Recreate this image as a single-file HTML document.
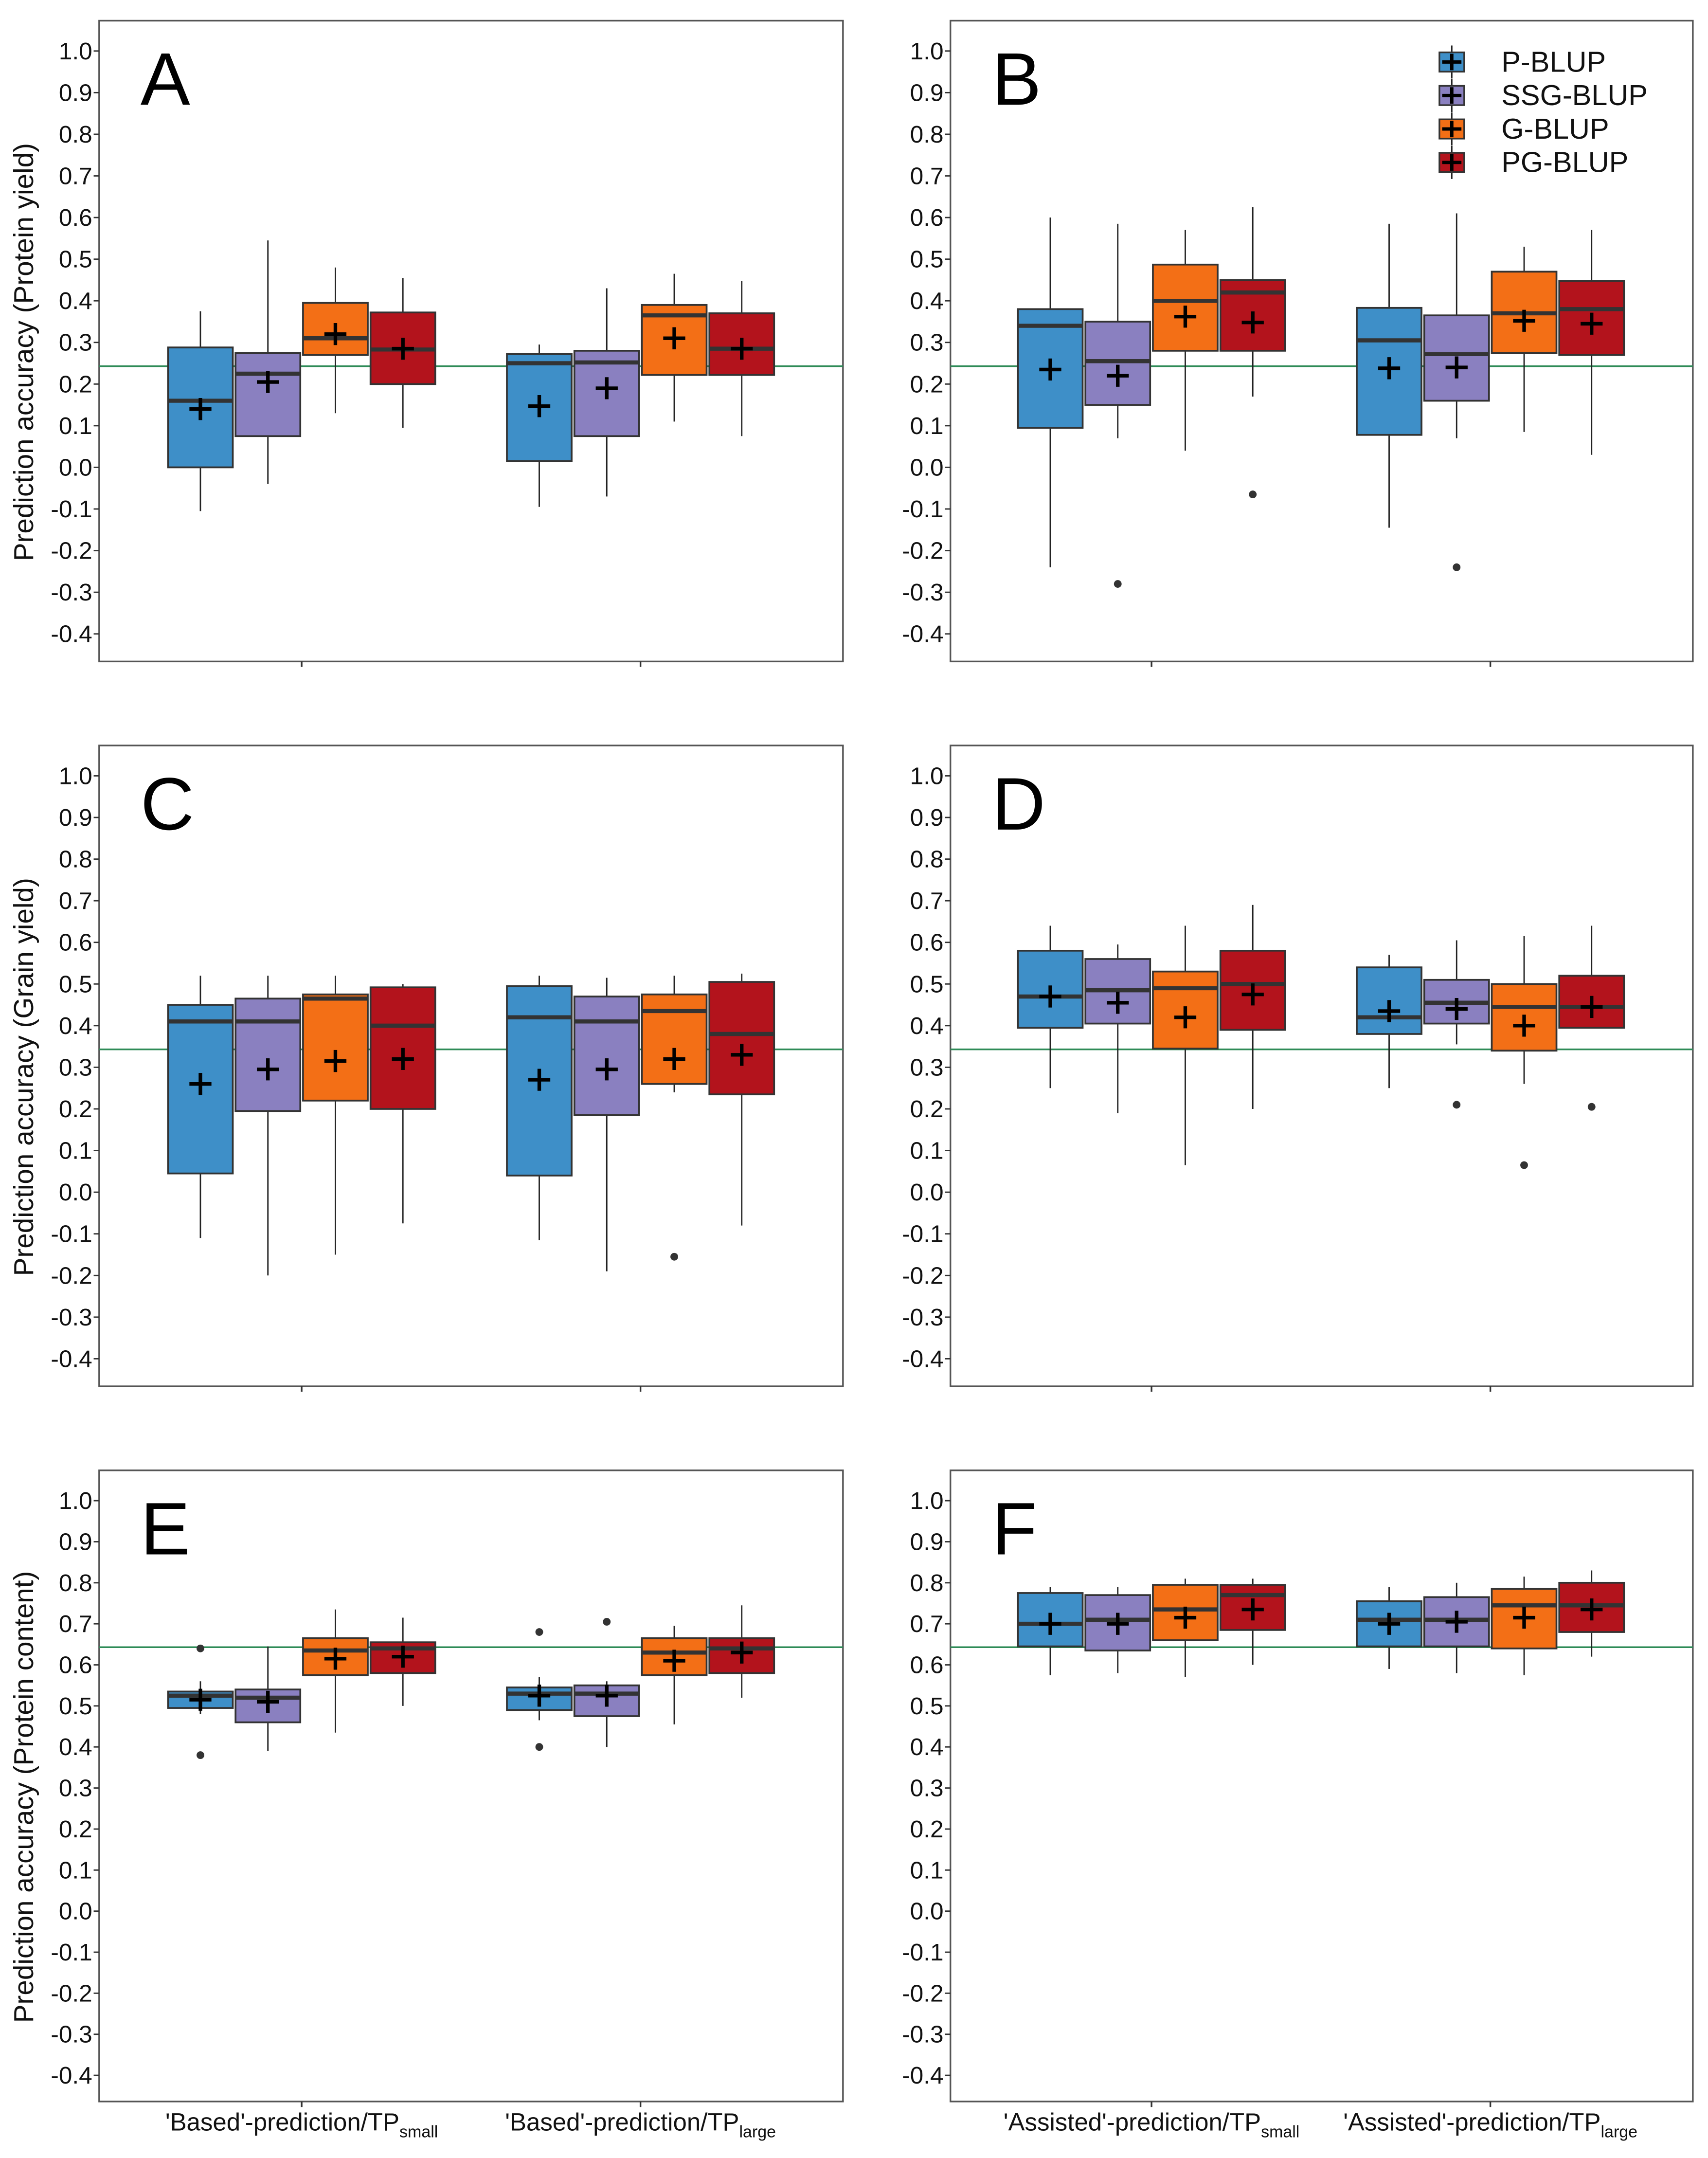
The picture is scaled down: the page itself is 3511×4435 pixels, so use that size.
<!DOCTYPE html>
<html><head><meta charset="utf-8"><style>
html,body{margin:0;padding:0;background:#fff;}
svg{display:block;}
text{font-family:"Liberation Sans",Arial,sans-serif;}
</style></head><body>
<svg id="chart" width="3511" height="4435" viewBox="0 0 1240 1566" preserveAspectRatio="none" xmlns="http://www.w3.org/2000/svg"></svg>
<script>
const methods = ["P-BLUP","SSG-BLUP","G-BLUP","PG-BLUP"];
const colors = ["#3e8fc8","#8a80c0","#f36f16","#b3131c"];
const yTicks = [1.0,0.9,0.8,0.7,0.6,0.5,0.4,0.3,0.2,0.1,0.0,-0.1,-0.2,-0.3,-0.4];
const panelLetters = ["A","B","C","D","E","F"];
const refLines = [0.243,0.243,0.343,0.343,0.643,0.643];
// order per panel: group1 [P,SSG,G,PG], group2 [P,SSG,G,PG]
const A_lo=[-0.105,-0.04,0.13,0.095,-0.095,-0.07,0.11,0.075];
const A_q1=[0.0,0.075,0.27,0.20,0.015,0.075,0.222,0.222];
const A_md=[0.16,0.225,0.31,0.283,0.25,0.252,0.365,0.285];
const A_q3=[0.288,0.275,0.395,0.372,0.272,0.28,0.39,0.37];
const A_hi=[0.375,0.545,0.48,0.455,0.295,0.43,0.465,0.447];
const A_mean=[0.14,0.205,0.32,0.285,0.147,0.19,0.31,0.285];
const A_out=[[],[],[],[],[],[],[],[]];
const B_lo=[-0.24,0.07,0.04,0.17,-0.145,0.07,0.085,0.03];
const B_q1=[0.095,0.15,0.28,0.28,0.078,0.16,0.275,0.27];
const B_md=[0.34,0.255,0.40,0.42,0.305,0.272,0.37,0.38];
const B_q3=[0.38,0.35,0.487,0.45,0.383,0.365,0.47,0.448];
const B_hi=[0.60,0.585,0.57,0.625,0.585,0.61,0.53,0.57];
const B_mean=[0.235,0.22,0.362,0.348,0.238,0.24,0.352,0.345];
const B_out=[[],[-0.28],[],[-0.065],[],[-0.24],[],[]];
const C_lo=[-0.11,-0.2,-0.15,-0.075,-0.115,-0.19,0.24,-0.08];
const C_q1=[0.045,0.195,0.22,0.20,0.04,0.185,0.26,0.235];
const C_md=[0.41,0.41,0.465,0.40,0.42,0.41,0.435,0.38];
const C_q3=[0.45,0.465,0.475,0.492,0.495,0.47,0.475,0.505];
const C_hi=[0.52,0.52,0.52,0.50,0.52,0.515,0.52,0.525];
const C_mean=[0.26,0.295,0.315,0.32,0.27,0.295,0.32,0.33];
const C_out=[[],[],[],[],[],[],[-0.155],[]];
const D_lo=[0.25,0.19,0.065,0.20,0.25,0.355,0.26,0.395];
const D_q1=[0.395,0.405,0.345,0.39,0.38,0.405,0.34,0.395];
const D_md=[0.47,0.485,0.49,0.50,0.42,0.455,0.445,0.445];
const D_q3=[0.58,0.56,0.53,0.58,0.54,0.51,0.50,0.52];
const D_hi=[0.64,0.595,0.64,0.69,0.57,0.605,0.615,0.64];
const D_mean=[0.47,0.455,0.42,0.475,0.435,0.44,0.40,0.445];
const D_out=[[],[],[],[],[],[0.21],[0.065],[0.205]];
const E_lo=[0.48,0.39,0.435,0.50,0.465,0.40,0.455,0.52];
const E_q1=[0.495,0.46,0.575,0.58,0.49,0.475,0.575,0.58];
const E_md=[0.525,0.52,0.635,0.64,0.53,0.53,0.63,0.64];
const E_q3=[0.535,0.54,0.665,0.655,0.545,0.55,0.665,0.665];
const E_hi=[0.56,0.645,0.735,0.715,0.57,0.56,0.695,0.745];
const E_mean=[0.515,0.51,0.615,0.62,0.525,0.525,0.61,0.63];
const E_out=[[0.64,0.38],[],[],[],[0.68,0.40],[0.705],[],[]];
const F_lo=[0.575,0.58,0.57,0.60,0.59,0.58,0.575,0.62];
const F_q1=[0.645,0.635,0.66,0.685,0.645,0.645,0.64,0.68];
const F_md=[0.70,0.71,0.735,0.77,0.71,0.71,0.745,0.745];
const F_q3=[0.775,0.77,0.795,0.795,0.755,0.765,0.785,0.80];
const F_hi=[0.79,0.79,0.81,0.81,0.79,0.80,0.815,0.83];
const F_mean=[0.70,0.70,0.715,0.735,0.70,0.705,0.715,0.735];
const F_out=[[],[],[],[],[],[],[],[]];
const leftLabels = ["'Based'-prediction/TP","'Based'-prediction/TP"];
const rightLabels = ["'Assisted'-prediction/TP","'Assisted'-prediction/TP"];
const subLabels = ["small","large"];
const yTitles = ["Prediction accuracy (Protein yield)","Prediction accuracy (Grain yield)","Prediction accuracy (Protein content)"];

const DATA=[[A_lo,A_q1,A_md,A_q3,A_hi,A_mean,A_out],[B_lo,B_q1,B_md,B_q3,B_hi,B_mean,B_out],
[C_lo,C_q1,C_md,C_q3,C_hi,C_mean,C_out],[D_lo,D_q1,D_md,D_q3,D_hi,D_mean,D_out],
[E_lo,E_q1,E_md,E_q3,E_hi,E_mean,E_out],[F_lo,F_q1,F_md,F_q3,F_hi,F_mean,F_out]];

const svg=document.getElementById('chart');
const NS='http://www.w3.org/2000/svg';
function mk(tag,attrs,parent){const e=document.createElementNS(NS,tag);for(const k in attrs)e.setAttribute(k,attrs[k]);(parent||svg).appendChild(e);return e;}

const rows=[{top:15,bot:480,y1:37,ym:460},{top:541,bot:1006,y1:563,ym:986},{top:1067,bot:1525,y1:1089,ym:1506}];
const cols=[{l:72,r:612,g:[219,465]},{l:690,r:1229,g:[836,1082]}];
const offs=[-73.5,-24.5,24.5,73.5];
const BW=47;

for(let p=0;p<6;p++){
  const R=rows[Math.floor(p/2)], C=cols[p%2];
  const yS=v=>R.ym+(v-(-0.4))*(R.y1-R.ym)/1.4;
  const g=mk('g',{});
  
  
  const frame=mk('rect',{x:C.l,y:R.top,width:C.r-C.l,height:R.bot-R.top,fill:'none',stroke:'#555','stroke-width':1.2},g);
  
  
  yTicks.forEach(t=>{
    const y=yS(t);
    mk('line',{x1:C.l-4,x2:C.l,y1:y,y2:y,stroke:'#333','stroke-width':1},g);
    const tx=mk('text',{x:C.l-5,y:y+6,'text-anchor':'end','font-size':17.5,fill:'#111'},g);
    tx.textContent=t.toFixed(1);
    
    
  });
  C.g.forEach(gx=>mk('line',{x1:gx,x2:gx,y1:R.bot,y2:R.bot+4,stroke:'#333','stroke-width':1.2},g));
  const ry=yS(refLines[p]);
  const rl=mk('line',{x1:C.l,x2:C.r,y1:ry,y2:ry,stroke:'#2e8b57','stroke-width':1.2},g);
  
  
  const [lo,q1,md,q3,hi,mean,out]=DATA[p];
  for(let i=0;i<8;i++){
    const m=i%4, cx=C.g[Math.floor(i/4)]+offs[m];
    const bg=mk('g',{},g);
    
    
    mk('line',{x1:cx,x2:cx,y1:yS(hi[i]),y2:yS(q3[i]),stroke:'#222','stroke-width':1},bg);
    mk('line',{x1:cx,x2:cx,y1:yS(q1[i]),y2:yS(lo[i]),stroke:'#222','stroke-width':1},bg);
    mk('rect',{x:cx-BW/2,y:yS(q3[i]),width:BW,height:yS(q1[i])-yS(q3[i]),fill:colors[m],stroke:'#333','stroke-width':1.3},bg);
    mk('line',{x1:cx-BW/2,x2:cx+BW/2,y1:yS(md[i]),y2:yS(md[i]),stroke:'#333','stroke-width':3},bg);
    const my=yS(mean[i]);
    mk('path',{d:`M${cx-8},${my}H${cx+8}M${cx},${my-8}V${my+8}`,stroke:'#000','stroke-width':2.6,fill:'none'},bg);
    out[i].forEach(o=>mk('circle',{cx:cx,cy:yS(o),r:2.8,fill:'#333'},bg));
  }
  const L=mk('text',{x:C.l+30,y:R.top+61,'font-size':54,fill:'#000'},g);
  L.textContent=panelLetters[p];
  
  
  if(p%2===0){
    const cy=(R.top+R.bot)/2+8;
    const yt=mk('text',{x:0,y:0,'font-size':20,'text-anchor':'middle',fill:'#111',transform:`translate(24,${cy}) rotate(-90)`},g);
    yt.textContent=yTitles[p/2];
    
    
  }
  if(p>=4){
    const labs=p===4?leftLabels:rightLabels;
    C.g.forEach((gx,k)=>{
      const t=mk('text',{x:gx,y:1546,'text-anchor':'middle','font-size':18,fill:'#111'},g);
      t.textContent=labs[k];
      const s=mk('tspan',{'font-size':12,dy:5},t);
      s.textContent=subLabels[k];
      
      
    });
  }
}
// legend in panel B
const lg=mk('g',{});


methods.forEach((m,i)=>{
  const y=45+i*24.3;
  const e=mk('g',{},lg);
  
  
  mk('line',{x1:1054,x2:1054,y1:y-12,y2:y+12,stroke:'#222','stroke-width':1},e);
  mk('rect',{x:1045,y:y-7,width:18,height:14,fill:colors[i],stroke:'#333','stroke-width':1.2},e);
  mk('path',{d:`M1047,${y}H1061M1054,${y-6}V${y+6}`,stroke:'#000','stroke-width':2.4},e);
  const t=mk('text',{x:1090,y:y+7,'font-size':21,fill:'#111'},e);
  t.textContent=m;
});
</script>
</body></html>
